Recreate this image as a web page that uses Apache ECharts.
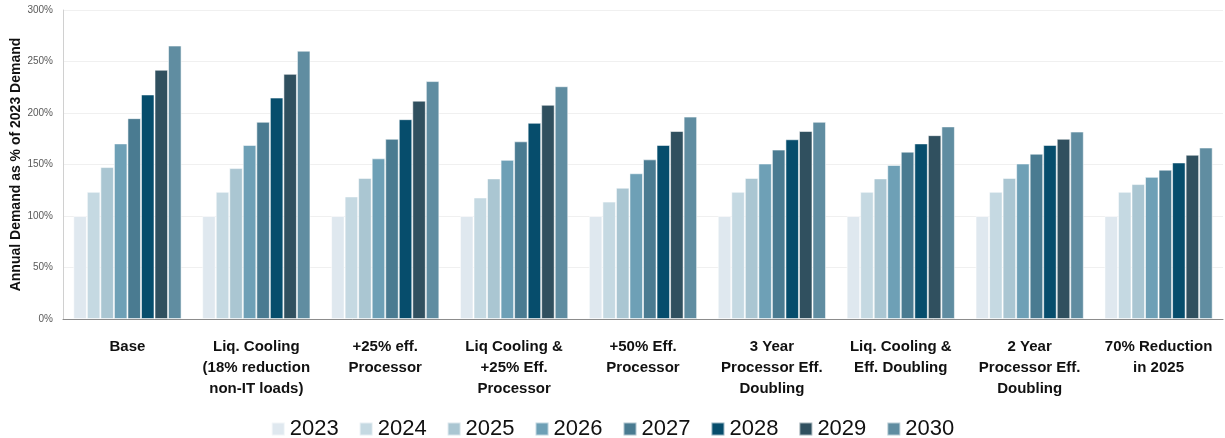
<!DOCTYPE html>
<html>
<head>
<meta charset="utf-8">
<script src="https://cdn.jsdelivr.net/npm/echarts@6/dist/echarts.min.js"></script>
<style>
  html, body { margin: 0; padding: 0; background: #fff; }
  #chart { width: 1225px; height: 438px; }
</style>
</head>
<body>
<div id="chart"></div>
<script>
// Scenario categories (x axis)
const scenarios = [
  'Base',
  'Liq. Cooling\n(18% reduction\nnon-IT loads)',
  '+25% eff.\nProcessor',
  'Liq Cooling &\n+25% Eff.\nProcessor',
  '+50% Eff.\nProcessor',
  '3 Year\nProcessor Eff.\nDoubling',
  'Liq. Cooling &\nEff. Doubling',
  '2 Year\nProcessor Eff.\nDoubling',
  '70% Reduction\nin 2025'
];

// Years shown as series
const years = ['2023', '2024', '2025', '2026', '2027', '2028', '2029', '2030'];

// Annual demand as % of 2023 demand, one array per year (order follows scenarios)
const y2023 = [100, 100, 100, 100, 100, 100, 100, 100, 100];
const y2024 = [123.5, 123.5, 119, 118, 114, 123.5, 123.5, 123.5, 123.5];
const y2025 = [147.5, 146.5, 137, 136.5, 127.5, 137, 136.5, 137, 131];
const y2026 = [170.5, 169, 156, 154.5, 141.5, 151, 149.5, 151, 138];
const y2027 = [195, 191.5, 175, 172.5, 155, 164.5, 162.5, 160.5, 145];
const y2028 = [218, 215, 194, 190.5, 169, 174.5, 170.5, 169, 152];
const y2029 = [242, 238, 212, 208, 182.5, 182.5, 178.5, 175, 159.5];
const y2030 = [265.5, 260.5, 231, 226, 196.5, 191.5, 187, 182, 166.5];

const seriesValues = [y2023, y2024, y2025, y2026, y2027, y2028, y2029, y2030];

// Y axis ticks (percent)
const yTicks = [0, 50, 100, 150, 200, 250, 300];

const palette = ['#dfe8ef', '#c5d9e2', '#aac6d2', '#6ea0b6', '#4a7b91', '#064d6c', '#30505f', '#608da1'];

const chart = echarts.init(document.getElementById('chart'), null, { renderer: 'canvas' });

chart.setOption({
  animation: false,
  color: palette,
  grid: { left: 63, right: 2, top: 10, bottom: 119, containLabel: false, outerBoundsMode: 'none' },
  legend: {
    data: years,
    top: 413,
    left: 'center',
    itemWidth: 13,
    itemHeight: 13,
    itemGap: 20,
    icon: 'rect',
    textStyle: { fontFamily: 'Liberation Sans', fontSize: 22, color: '#111' }
  },
  xAxis: {
    type: 'category',
    data: scenarios,
    axisTick: { show: false },
    axisLine: { lineStyle: { color: '#8c8c8c', width: 1 } },
    axisLabel: {
      interval: 0,
      margin: 17,
      fontFamily: 'Liberation Sans',
      fontWeight: 'bold',
      fontSize: 15,
      lineHeight: 21,
      color: '#111'
    }
  },
  yAxis: {
    type: 'value',
    min: yTicks[0],
    max: yTicks[yTicks.length - 1],
    interval: 50,
    name: 'Annual Demand as % of 2023 Demand',
    nameLocation: 'middle',
    nameGap: 40,
    nameMoveOverlap: false,
    nameTextStyle: { fontFamily: 'Liberation Sans', fontWeight: 'bold', fontSize: 14, color: '#111' },
    axisLine: { show: true, lineStyle: { color: '#d0d0d0' } },
    axisTick: { show: false },
    splitLine: { lineStyle: { color: '#f0f0f0', width: 1 } },
    axisLabel: {
      margin: 10,
      fontFamily: 'Liberation Sans',
      fontSize: 10,
      color: '#595959',
      formatter: v => v + '%'
    }
  },
  series: years.map((yr, i) => ({
    name: yr,
    type: 'bar',
    data: seriesValues[i],
    barGap: '0%',
    barCategoryGap: '16%',
    itemStyle: { borderColor: 'rgba(255,255,255,0.55)', borderWidth: 1 }
  }))
});
</script>
</body>
</html>
